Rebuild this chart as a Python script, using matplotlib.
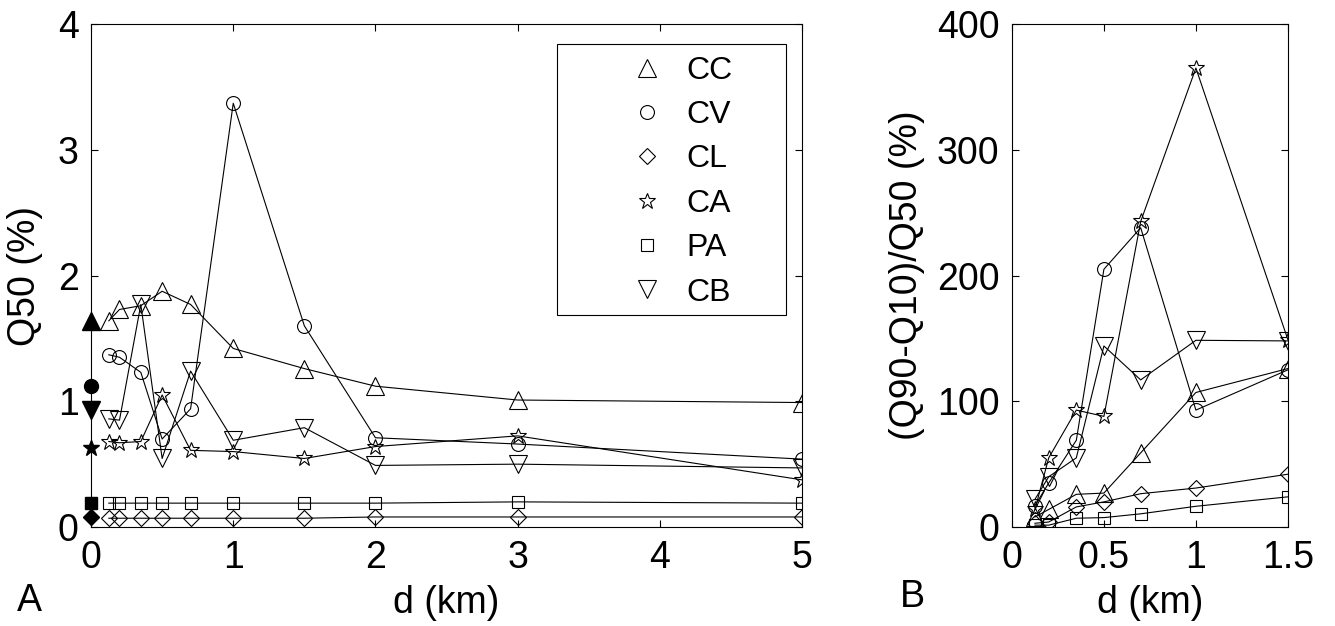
import numpy as np
import matplotlib
matplotlib.use("Agg")
import matplotlib.pyplot as plt
from matplotlib.lines import Line2D
from matplotlib.patches import Rectangle

plt.rcParams['font.family'] = ['Liberation Sans', 'DejaVu Sans']

# panel A: median Q50 (%) vs distance
d_a = [0.125, 0.2, 0.35, 0.5, 0.7, 1, 1.5, 2, 3, 5]
q50 = {
    "CC": [1.64, 1.73, 1.76, 1.875, 1.77, 1.42, 1.26, 1.12, 1.01, 0.99],
    "CV": [1.37, 1.35, 1.23, 0.70, 0.94, 3.37, 1.60, 0.71, 0.66, 0.54],
    "CL": [0.07, 0.07, 0.07, 0.07, 0.07, 0.07, 0.07, 0.08, 0.08, 0.08],
    "CA": [0.68, 0.67, 0.68, 1.05, 0.61, 0.60, 0.545, 0.64, 0.725, 0.375],
    "PA": [0.19, 0.19, 0.19, 0.19, 0.19, 0.19, 0.19, 0.19, 0.20, 0.19],
    "CB": [0.86, 0.85, 1.77, 0.545, 1.24, 0.69, 0.79, 0.49, 0.50, 0.47],
}
# reference values at d = 0 (filled markers)
q50_ref = {"CC": 1.64, "CV": 1.12, "CL": 0.08, "CA": 0.63, "PA": 0.19, "CB": 0.93}

# panel B: spread (Q90-Q10)/Q50 (%) vs distance
d_b = [0.125, 0.2, 0.35, 0.5, 0.7, 1, 1.5]
spread = {
    "CC": [8, 14, 26, 27, 59, 107, 126],
    "CV": [17, 35, 69, 205, 238, 93, 125],
    "CL": [3, 4, 16, 20, 26.5, 31, 42],
    "CA": [14, 55, 93, 88, 243, 365, 149],
    "PA": [1.5, 1.5, 7, 7.5, 10.5, 16.5, 24],
    "CB": [22, 40, 55, 144, 117, 148.5, 148],
}

names = ["CC", "CV", "CL", "CA", "PA", "CB"]
markers = {"CC": "^", "CV": "o", "CL": "D", "CA": "*", "PA": "s", "CB": "v"}
msizes = {"CC": 13, "CV": 10, "CL": 8.4, "CA": 12, "PA": 9, "CB": 13}

FS = 27

fig = plt.figure(figsize=(13.35, 6.26), dpi=100)
axA = fig.add_axes([0.0682, 0.1581, 0.5326, 0.8035])
axB = fig.add_axes([0.758, 0.1581, 0.2067, 0.8035])


def style(ax):
    ax.tick_params(direction='in', top=True, right=True, length=5, width=0.8,
                   labelsize=FS, pad=9)
    for s in ax.spines.values():
        s.set_linewidth(0.8)


for n in names:
    axA.plot(d_a, q50[n], color='k', lw=0.8, marker=markers[n], ms=msizes[n],
             mfc='none', mec='k', mew=0.8)
    axA.plot([0], [q50_ref[n]], ls='none', marker=markers[n], ms=msizes[n],
             mfc='k', mec='k', clip_on=False, zorder=5)
    axB.plot(d_b, spread[n], color='k', lw=0.8, marker=markers[n], ms=msizes[n],
             mfc='none', mec='k', mew=0.8)

axA.set_xlim(0, 5)
axA.set_ylim(0, 4)
axA.set_xticks([0, 1, 2, 3, 4, 5])
axA.set_yticks([0, 1, 2, 3, 4])
style(axA)
axA.set_xlabel("d (km)", fontsize=FS)
axA.set_ylabel("Q50 (%)", fontsize=FS)
axA.xaxis.set_label_coords(0.5, -0.115)
axA.yaxis.set_label_coords(-0.068, 0.5)

axB.set_xlim(0, 1.5)
axB.set_ylim(0, 400)
axB.set_xticks([0, 0.5, 1, 1.5])
axB.set_xticklabels(["0", "0.5", "1", "1.5"])
axB.set_yticks([0, 100, 200, 300, 400])
style(axB)
axB.set_xlabel("d (km)", fontsize=FS)
axB.set_ylabel("(Q90-Q10)/Q50 (%)", fontsize=FS)
axB.xaxis.set_label_coords(0.5, -0.115)
axB.yaxis.set_label_coords(-0.315, 0.5)

# legend: markers only, inside a wide box
box = Rectangle((0.656, 0.4215), 0.321, 0.5385, transform=axA.transAxes,
                facecolor='white', edgecolor='k', lw=0.8, zorder=4)
axA.add_patch(box)
handles = [Line2D([], [], ls='none', marker=markers[n], ms=msizes[n],
                  mfc='none', mec='k', mew=0.8) for n in names]
axA.legend(handles, names, loc='upper left', bbox_to_anchor=(0.7595, 0.937),
           frameon=False, fontsize=23, borderpad=0, borderaxespad=0,
           handlelength=1.0, handletextpad=0.73, labelspacing=0.45,
           numpoints=1)

fig.text(29 / 1335, 1 - 601 / 626, "A", fontsize=FS, ha='center', va='center')
fig.text(912 / 1335, 1 - 597 / 626, "B", fontsize=FS, ha='center', va='center')

fig.savefig("out.png", dpi=100)
